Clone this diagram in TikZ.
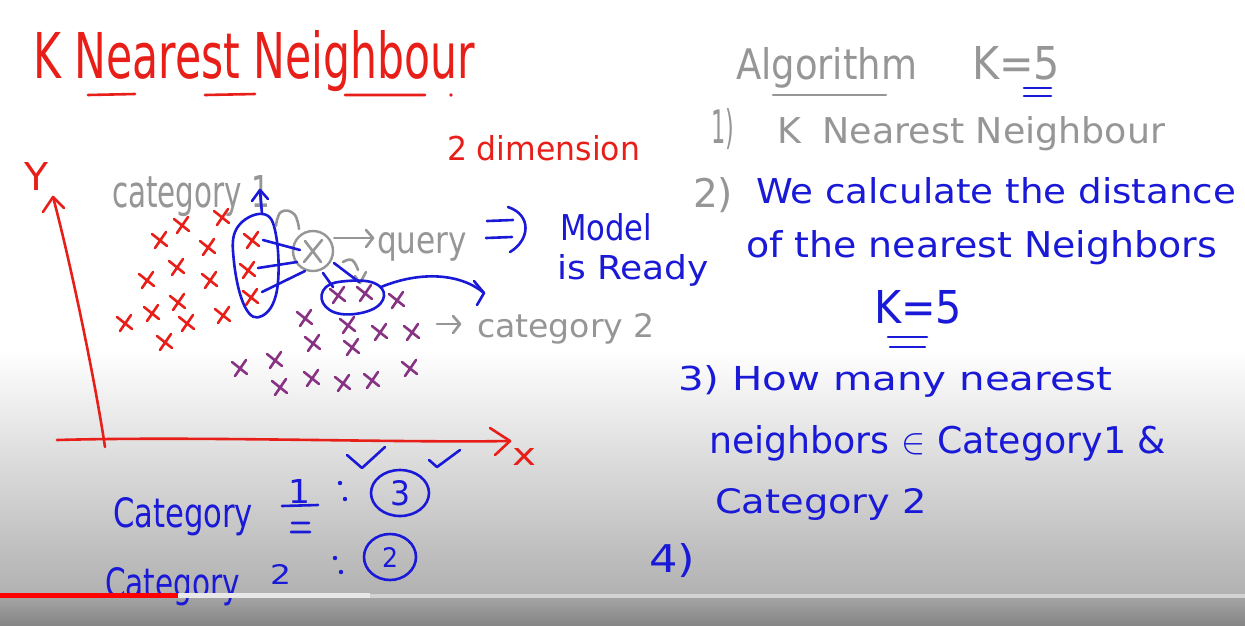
\documentclass[tikz,border=0pt]{standalone}
\usepackage{fontspec}
\setmainfont{DejaVu Sans}
\usepackage{graphicx}
\usetikzlibrary{shapes.geometric}
\definecolor{hred}{RGB}{232,30,25}
\definecolor{hblue}{RGB}{25,25,215}
\definecolor{hgray}{RGB}{150,150,150}
\definecolor{hpurp}{RGB}{135,50,130}
\newcommand{\hw}[3]{\resizebox{#1pt}{#2pt}{#3}}
\newcommand{\crs}[3]{\draw[#3,stroke] (#1-8,#2-6)--(#1+7,#2+6) (#1+6,#2-8)--(#1-5,#2+8);}
\tikzset{
  txt/.style={anchor=base west, inner sep=0pt, outer sep=0pt},
  stroke/.style={line width=2.6pt, line cap=round, line join=round},
}
\begin{document}
\begin{tikzpicture}[x=1pt,y=-1pt]
\useasboundingbox (0,0) rectangle (1245,625);
% background
\fill[white] (0,0) rectangle (1245,625);
\shade[top color=white, bottom color=gray!62] (0,350) rectangle (1245,598);
\shade[top color=gray!72, bottom color=gray!95] (0,598) rectangle (1245,625);

% ---------- title ----------
\node[txt,text=hred] (title) at (33,78) {\hw{442}{48}{K Nearest Neighbour}};
\draw[hred,stroke] (88,95)--(135,94) (205,95)--(255,94) (345,95)--(425,95);
\fill[hred] (451,95) circle (1.8);
\node[txt,text=hred] (dim) at (447,160) {\hw{193}{25}{2 dimension}};

% ---------- axes ----------
\node[txt,text=hred] (ylab) at (24,190) {\hw{24}{28}{Y}};
\coordinate (yb) at (105,447);
\coordinate (yt) at (53,197);
\draw[hred,stroke] (yb) .. controls (95,380) and (70,260) .. (yt);
\draw[hred,stroke] (43,212)--(yt)--(64,208);
\coordinate (xl) at (57,440);
\coordinate (xr) at (510,441);
\draw[hred,stroke] (xl) .. controls (200,436) and (400,443) .. (xr);
\draw[hred,stroke] (490,428)--(xr)--(495,455);
\node[txt,text=hred] (xlab) at (512,465) {\hw{24}{17}{x}};

% ---------- category 1 ----------
\node[txt,text=hgray] (cat1) at (112,207) {\hw{158}{32}{category 1}};
\crs{160}{240}{hred}\crs{182}{225}{hred}\crs{222}{217}{hred}
\crs{208}{247}{hred}\crs{147}{280}{hred}\crs{177}{267}{hred}
\crs{210}{280}{hred}\crs{125}{323}{hred}\crs{152}{313}{hred}
\crs{178}{302}{hred}\crs{187}{323}{hred}\crs{223}{315}{hred}
\crs{165}{342}{hred}
\crs{252}{240}{hred}\crs{248}{270}{hred}\crs{251}{297}{hred}
% loop around the three nearest of category 1
\draw[hblue,stroke] plot[smooth cycle,tension=0.7] coordinates {(263,214) (276,235) (277,290) (262,316) (245,307) (234,262) (237,228)};
\coordinate (up) at (260,190);
\draw[hblue,stroke] (262,214)--(up);
\draw[hblue,stroke] (252,201)--(up)--(268,199);

% ---------- query ----------
\node[draw=hgray,circle,line width=2.4pt,minimum size=40pt,inner sep=0pt] (q) at (313,251) {};
\draw[hgray,stroke] (305,241)--(321,262) (322,240)--(304,262);
\draw[hgray,stroke] plot[smooth,tension=0.8] coordinates {(276,226) (281,212) (294,214) (299,229)};
\draw[hgray,stroke] plot[smooth,tension=0.8] coordinates {(343,262) (352,260) (358,270)};
\draw[hgray,stroke] (355,276)--(360,283)--(366,272);
\draw[hblue,stroke] (263,240)--(300,250);
\draw[hblue,stroke] (258,268)--(297,262);
\draw[hblue,stroke] (262,292)--(305,271);
\coordinate (qa) at (373,238);
\draw[hgray,stroke] (q.east) ++(0,-13) -- (qa);
\draw[hgray,stroke] (366,230)--(qa)--(366,247);
\node[txt,text=hgray] (query) at (377,253) {\hw{90}{21}{query}};
% implies
\draw[hblue,stroke] (487,221)--(513,220) (486,238)--(512,237);
\draw[hblue,stroke] (508,207) .. controls (532,215) and (530,240) .. (510,252);
\node[txt,text=hblue] (model) at (560,240) {\hw{92}{27}{Model}};
\node[txt,text=hblue] (ready) at (557,279) {\hw{152}{25}{is Ready}};

% ---------- category 2 ----------
\crs{338}{295}{hpurp}\crs{365}{293}{hpurp}\crs{397}{300}{hpurp}
\crs{305}{318}{hpurp}\crs{348}{325}{hpurp}\crs{380}{332}{hpurp}
\crs{412}{332}{hpurp}\crs{313}{343}{hpurp}\crs{352}{347}{hpurp}
\crs{240}{368}{hpurp}\crs{275}{360}{hpurp}\crs{280}{387}{hpurp}
\crs{312}{378}{hpurp}\crs{343}{383}{hpurp}\crs{372}{380}{hpurp}
\crs{410}{368}{hpurp}
\draw[hblue,stroke] plot[smooth cycle,tension=0.7] coordinates {(326,287) (347,281) (374,283) (384,296) (371,310) (341,314) (323,303)};
\draw[hblue,stroke] (334,263)--(359,282);
\draw[hblue,stroke] (323,273)--(333,287);
\coordinate (c2a) at (484,293);
\draw[hblue,stroke] (381,287) .. controls (420,271) and (460,273) .. (c2a);
\draw[hblue,stroke] (474,281)--(c2a)--(477,305);
\coordinate (c2b) at (460,324);
\draw[hgray,stroke] (437,324)--(c2b);
\draw[hgray,stroke] (453,316)--(c2b)--(453,333);
\node[txt,text=hgray] (cat2) at (477,337) {\hw{178}{24}{category 2}};

% ---------- counts ----------
\node[txt,text=hblue] (cnt1) at (113,527) {\hw{140}{30}{Category}};
\node[txt,text=hblue] (one) at (288,503) {\hw{22}{24}{1}};
\draw[hblue,stroke] (282,506)--(318,505) (292,523)--(309,523) (291,532)--(310,532);
\fill[hblue] (340,483) circle (2.2) (345,499) circle (2.2);
\node[draw=hblue,ellipse,line width=2.6pt,minimum width=58pt,minimum height=46pt,inner sep=0pt] (three) at (400,493) {};
\node[text=hblue,inner sep=0pt] at (three) {\hw{20}{25}{3}};
\draw[hblue,stroke] (347,455)--(362,468)--(385,447);
\draw[hblue,stroke] (429,460)--(437,467)--(460,450);
\node[txt,text=hblue] (cnt2) at (105,597) {\hw{135}{30}{Category}};
\node[txt,text=hblue] (two) at (270,584) {\hw{21}{20}{2}};
\fill[hblue] (335,558) circle (2.2) (341,572) circle (2.2);
\node[draw=hblue,ellipse,line width=2.6pt,minimum width=52pt,minimum height=46pt,inner sep=0pt] (twoc) at (390,557) {};
\node[text=hblue,inner sep=0pt] at (twoc) {\hw{16}{20}{2}};

% ---------- algorithm ----------
\node[txt,text=hgray] (alg) at (736,79) {\hw{181}{32}{Algorithm}};
\draw[hgray,stroke] (773,95)--(886,95);
\node[txt,text=hgray] (k5a) at (972,79) {\hw{88}{33}{K=5}};
\draw[hblue,stroke] (1024,88)--(1051,88) (1024,96)--(1051,96);
\node[txt,text=hgray] (s1) at (711,143) {\hw{23}{35}{1)}};
\node[txt,text=hgray] (s1t) at (777,143) {\hw{388}{27}{K\hspace{0.6em}Nearest Neighbour}};
\node[txt,text=hgray] (s2) at (693,207) {\hw{40}{30}{2)}};
\node[txt,text=hblue] (s2t) at (756,203) {\hw{480}{26}{We calculate the distance}};
\node[txt,text=hblue] (s2u) at (746,257) {\hw{471}{27}{of the nearest Neighbors}};
\node[txt,text=hblue] (k5b) at (874,323) {\hw{88}{33}{K=5}};
\draw[hblue,stroke] (888,337)--(927,337) (890,347)--(925,347);
\node[txt,text=hblue] (s3) at (678,390) {\hw{434}{25}{3) How many nearest}};
\node[txt,text=hblue] (s3u) at (709,453) {\hw{457}{28}{neighbors $\in$ Category1 \&}};
\node[txt,text=hblue] (s3v) at (715,513) {\hw{212}{25}{Category 2}};
\node[txt,text=hblue] (s4) at (649,572) {\hw{46}{29}{4)}};

% ---------- video progress bar ----------
\fill[gray!35] (370,594) rectangle (1245,598);
\fill[gray!18] (178,593) rectangle (370,598);
\fill[red] (0,592.5) rectangle (178,598);
\end{tikzpicture}
\end{document}
